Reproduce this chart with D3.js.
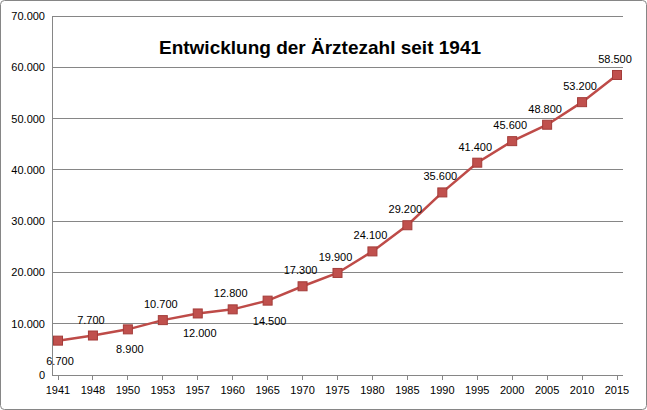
<!DOCTYPE html>
<html><head><meta charset="utf-8">
<script src="https://cdn.jsdelivr.net/npm/d3@7"></script>
<style>body{margin:0;background:#fff}</style></head>
<body><svg id="c" width="647" height="410"></svg>
<script>
const years = ["1941","1948","1950","1953","1957","1960","1965","1970","1975","1980","1985","1990","1995","2000","2005","2010","2015"];
const values = [6700,7700,8900,10700,12000,12800,14500,17300,19900,24100,29200,35600,41400,45600,48800,53200,58500];
const below = [true,false,true,false,true,false,true,false,false,false,false,false,false,false,false,false,false];
const yTicks = [0,10000,20000,30000,40000,50000,60000,70000];
const title = "Entwicklung der Ärztezahl seit 1941";

const svg = d3.select("#c");
const font = "'Liberation Sans', Arial, sans-serif";
svg.append("rect").attr("x",0.5).attr("y",0.5).attr("width",646).attr("height",409).attr("rx",4)
  .attr("fill","#fff").attr("stroke","#868686");
const x = d3.scalePoint().domain(years).range([58,617]);
const y = d3.scaleLinear().domain([0,70000]).range([375,16]);
const fmt = v => d3.format(",")(v).replace(/,/g,".");

svg.append("g").selectAll("line").data(yTicks).join("line")
  .attr("x1",52).attr("x2",623).attr("y1",d=>y(d)).attr("y2",d=>y(d))
  .attr("stroke","#868686").attr("stroke-width",1).attr("shape-rendering","crispEdges");
svg.append("line").attr("x1",52).attr("x2",52).attr("y1",16).attr("y2",375)
  .attr("stroke","#868686").attr("shape-rendering","crispEdges");
svg.append("g").selectAll("line").data(years).join("line")
  .attr("x1",d=>x(d)).attr("x2",d=>x(d)).attr("y1",375).attr("y2",380)
  .attr("stroke","#868686").attr("shape-rendering","crispEdges");
svg.append("g").selectAll("text").data(yTicks).join("text")
  .attr("x",45).attr("y",d=>y(d)+4).attr("text-anchor","end")
  .attr("font-family",font).attr("font-size",11).text(fmt);
svg.append("g").selectAll("text").data(years).join("text")
  .attr("x",d=>x(d)).attr("y",394).attr("text-anchor","middle")
  .attr("font-family",font).attr("font-size",11).text(d=>d);

const line = d3.line().x((d,i)=>x(years[i])).y(d=>y(d));
svg.append("path").datum(values).attr("d",line).attr("fill","none")
  .attr("stroke","#be4b48").attr("stroke-width",2.5);
svg.append("g").selectAll("rect").data(values).join("rect")
  .attr("x",(d,i)=>x(years[i])-4.5).attr("y",d=>y(d)-4.5).attr("width",9).attr("height",9)
  .attr("fill","#c0504d").attr("stroke","#a33c39");
svg.append("g").selectAll("text").data(values).join("text")
  .attr("x",(d,i)=>x(years[i])+(below[i]?2:-2)).attr("y",(d,i)=>y(d)+(below[i]?24:-12))
  .attr("text-anchor","middle").attr("font-family",font).attr("font-size",11).text(fmt);
svg.append("text").attr("x",320).attr("y",54).attr("text-anchor","middle")
  .attr("font-family",font).attr("font-size",19).attr("font-weight","bold").text(title);
</script></body></html>
